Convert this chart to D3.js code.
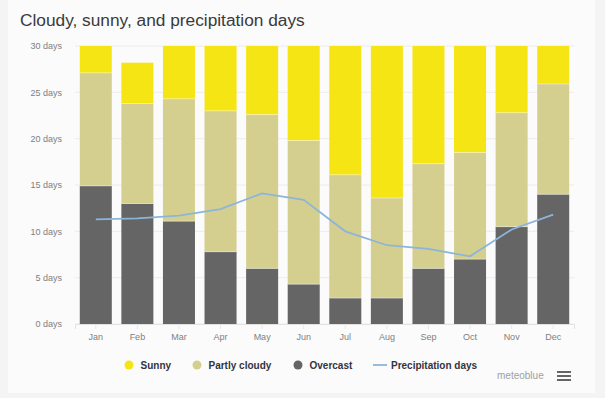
<!DOCTYPE html>
<html>
<head>
<meta charset="utf-8">
<script src="https://cdn.jsdelivr.net/npm/d3@7"></script>
<style>
  html, body { margin: 0; padding: 0; background: #f4f4f4; }
  svg { display: block; font-family: "Liberation Sans", Arial, sans-serif; }
</style>
</head>
<body>
<div id="chart"></div>
<script>
const months = ["Jan", "Feb", "Mar", "Apr", "May", "Jun", "Jul", "Aug", "Sep", "Oct", "Nov", "Dec"];
const overcast = [14.9, 13.0, 11.1, 7.8, 6.0, 4.3, 2.8, 2.8, 6.0, 7.0, 10.5, 14.0];
const partlyCloudy = [12.2, 10.8, 13.2, 15.2, 16.6, 15.5, 13.3, 10.8, 11.3, 11.5, 12.3, 11.9];
const sunny = [3.9, 4.4, 6.7, 7.0, 8.4, 10.2, 14.9, 17.4, 12.7, 12.5, 7.2, 5.1];
const precipitation = [11.3, 11.4, 11.7, 12.4, 14.1, 13.4, 10.0, 8.5, 8.1, 7.3, 10.2, 11.8];
const yTicks = [0, 5, 10, 15, 20, 25, 30];

(() => {
    const width = 605, height = 398;
    const margin = { top: 46, right: 31, bottom: 74, left: 75 };
    const innerW = width - margin.left - margin.right;
    const innerH = height - margin.top - margin.bottom;

    const colors = { sunny: "#f5e514", partly: "#d5cf8f", overcast: "#656565", precip: "#8db5da" };

    const rows = months.map((m, i) => ({ month: m, overcast: overcast[i], partly: partlyCloudy[i], sunny: sunny[i] }));
    const stack = d3.stack().keys(["overcast", "partly", "sunny"])(rows);

    const x = d3.scaleBand()
        .domain(months)
        .range([0, innerW])
        .paddingInner(0.23)
        .paddingOuter(0.115);

    const y = d3.scaleLinear()
        .domain([0, 30])
        .range([innerH, 0]);

    const svg = d3.select("#chart")
        .append("svg")
        .attr("width", width)
        .attr("height", height);

    svg.append("rect")
        .attr("x", 8).attr("y", 0)
        .attr("width", 587).attr("height", 393)
        .attr("fill", "#fbfbfb");

    svg.append("text")
        .attr("x", 20)
        .attr("y", 26)
        .attr("font-size", 17.3)
        .attr("fill", "#3a3a3a")
        .text("Cloudy, sunny, and precipitation days");

    svg.append("clipPath").attr("id", "plot-clip")
        .append("rect")
        .attr("x", 0).attr("y", 0)
        .attr("width", innerW).attr("height", innerH);

    const chart = svg.append("g")
        .attr("transform", `translate(${margin.left},${margin.top})`);

    // grid
    chart.append("g")
        .selectAll("line")
        .data(yTicks)
        .enter()
        .append("line")
        .attr("x1", 0).attr("x2", innerW)
        .attr("y1", d => y(d)).attr("y2", d => y(d))
        .attr("stroke", "#ececec")
        .attr("stroke-width", 1);

    const yAxis = chart.append("g")
        .call(d3.axisLeft(y).tickValues(yTicks).tickSize(0).tickPadding(13).tickFormat(d => `${d} days`));
    yAxis.select(".domain").remove();
    yAxis.selectAll("text")
        .attr("font-size", 9)
        .attr("fill", "#808080")
        .attr("font-family", "Liberation Sans, Arial, sans-serif");

    const xAxis = chart.append("g")
        .attr("transform", `translate(0,${innerH})`)
        .call(d3.axisBottom(x).tickSize(5).tickPadding(5));
    xAxis.select(".domain").attr("stroke", "#e2e2e2");
    xAxis.selectAll(".tick line").attr("stroke", "#e8e8e8");
    xAxis.selectAll("text")
        .attr("font-size", 9)
        .attr("fill", "#808080")
        .attr("font-family", "Liberation Sans, Arial, sans-serif");

    const bars = chart.append("g").attr("clip-path", "url(#plot-clip)");
    const fills = { overcast: colors.overcast, partly: colors.partly, sunny: colors.sunny };

    bars.selectAll("g")
        .data(stack)
        .enter()
        .append("g")
        .attr("fill", d => fills[d.key])
        .selectAll("rect")
        .data(d => d)
        .enter()
        .append("rect")
        .attr("x", d => x(d.data.month))
        .attr("y", d => y(d[1]))
        .attr("width", x.bandwidth())
        .attr("height", d => y(d[0]) - y(d[1]));

    // thin white seams between stacked parts
    bars.selectAll(".seam")
        .data(stack.slice(0, 2).flatMap(s => s.map(d => ({ month: d.data.month, v: d[1] }))))
        .enter()
        .append("line")
        .attr("class", "seam")
        .attr("x1", d => x(d.month)).attr("x2", d => x(d.month) + x.bandwidth())
        .attr("y1", d => y(d.v)).attr("y2", d => y(d.v))
        .attr("stroke", "#ffffff")
        .attr("stroke-opacity", 0.5)
        .attr("stroke-width", 0.8);

    const line = d3.line()
        .x((d, i) => x(months[i]) + x.bandwidth() / 2)
        .y(d => y(d));

    chart.append("path")
        .datum(precipitation)
        .attr("d", line)
        .attr("fill", "none")
        .attr("stroke", colors.precip)
        .attr("stroke-width", 1.8);

    // legend
    const legend = svg.append("g").attr("transform", "translate(0,365)");
    const items = [
        { label: "Sunny", color: colors.sunny, type: "dot", x: 129 },
        { label: "Partly cloudy", color: colors.partly, type: "dot", x: 197 },
        { label: "Overcast", color: colors.overcast, type: "dot", x: 298 },
        { label: "Precipitation days", color: colors.precip, type: "line", x: 380 }
    ];

    const li = legend.selectAll("g")
        .data(items)
        .enter()
        .append("g")
        .attr("transform", d => `translate(${d.x},0)`);

    li.filter(d => d.type === "dot")
        .append("circle")
        .attr("r", 4.5)
        .attr("fill", d => d.color);

    li.filter(d => d.type === "line")
        .append("line")
        .attr("x1", -7).attr("x2", 7)
        .attr("stroke", d => d.color)
        .attr("stroke-width", 1.8);

    li.append("text")
        .attr("x", d => d.type === "line" ? 11 : 11.5)
        .attr("y", 3.5)
        .attr("font-size", 10)
        .attr("font-weight", "bold")
        .attr("fill", "#333340")
        .text(d => d.label);

    svg.append("text")
        .attr("x", 497)
        .attr("y", 379)
        .attr("font-size", 10)
        .attr("fill", "#a0a0a0")
        .text("meteoblue");

    svg.append("g")
        .selectAll("rect")
        .data([0, 1, 2])
        .enter()
        .append("rect")
        .attr("x", 557)
        .attr("y", d => 371 + d * 4)
        .attr("width", 14)
        .attr("height", 2)
        .attr("fill", "#666");
})();
</script>
</body>
</html>
